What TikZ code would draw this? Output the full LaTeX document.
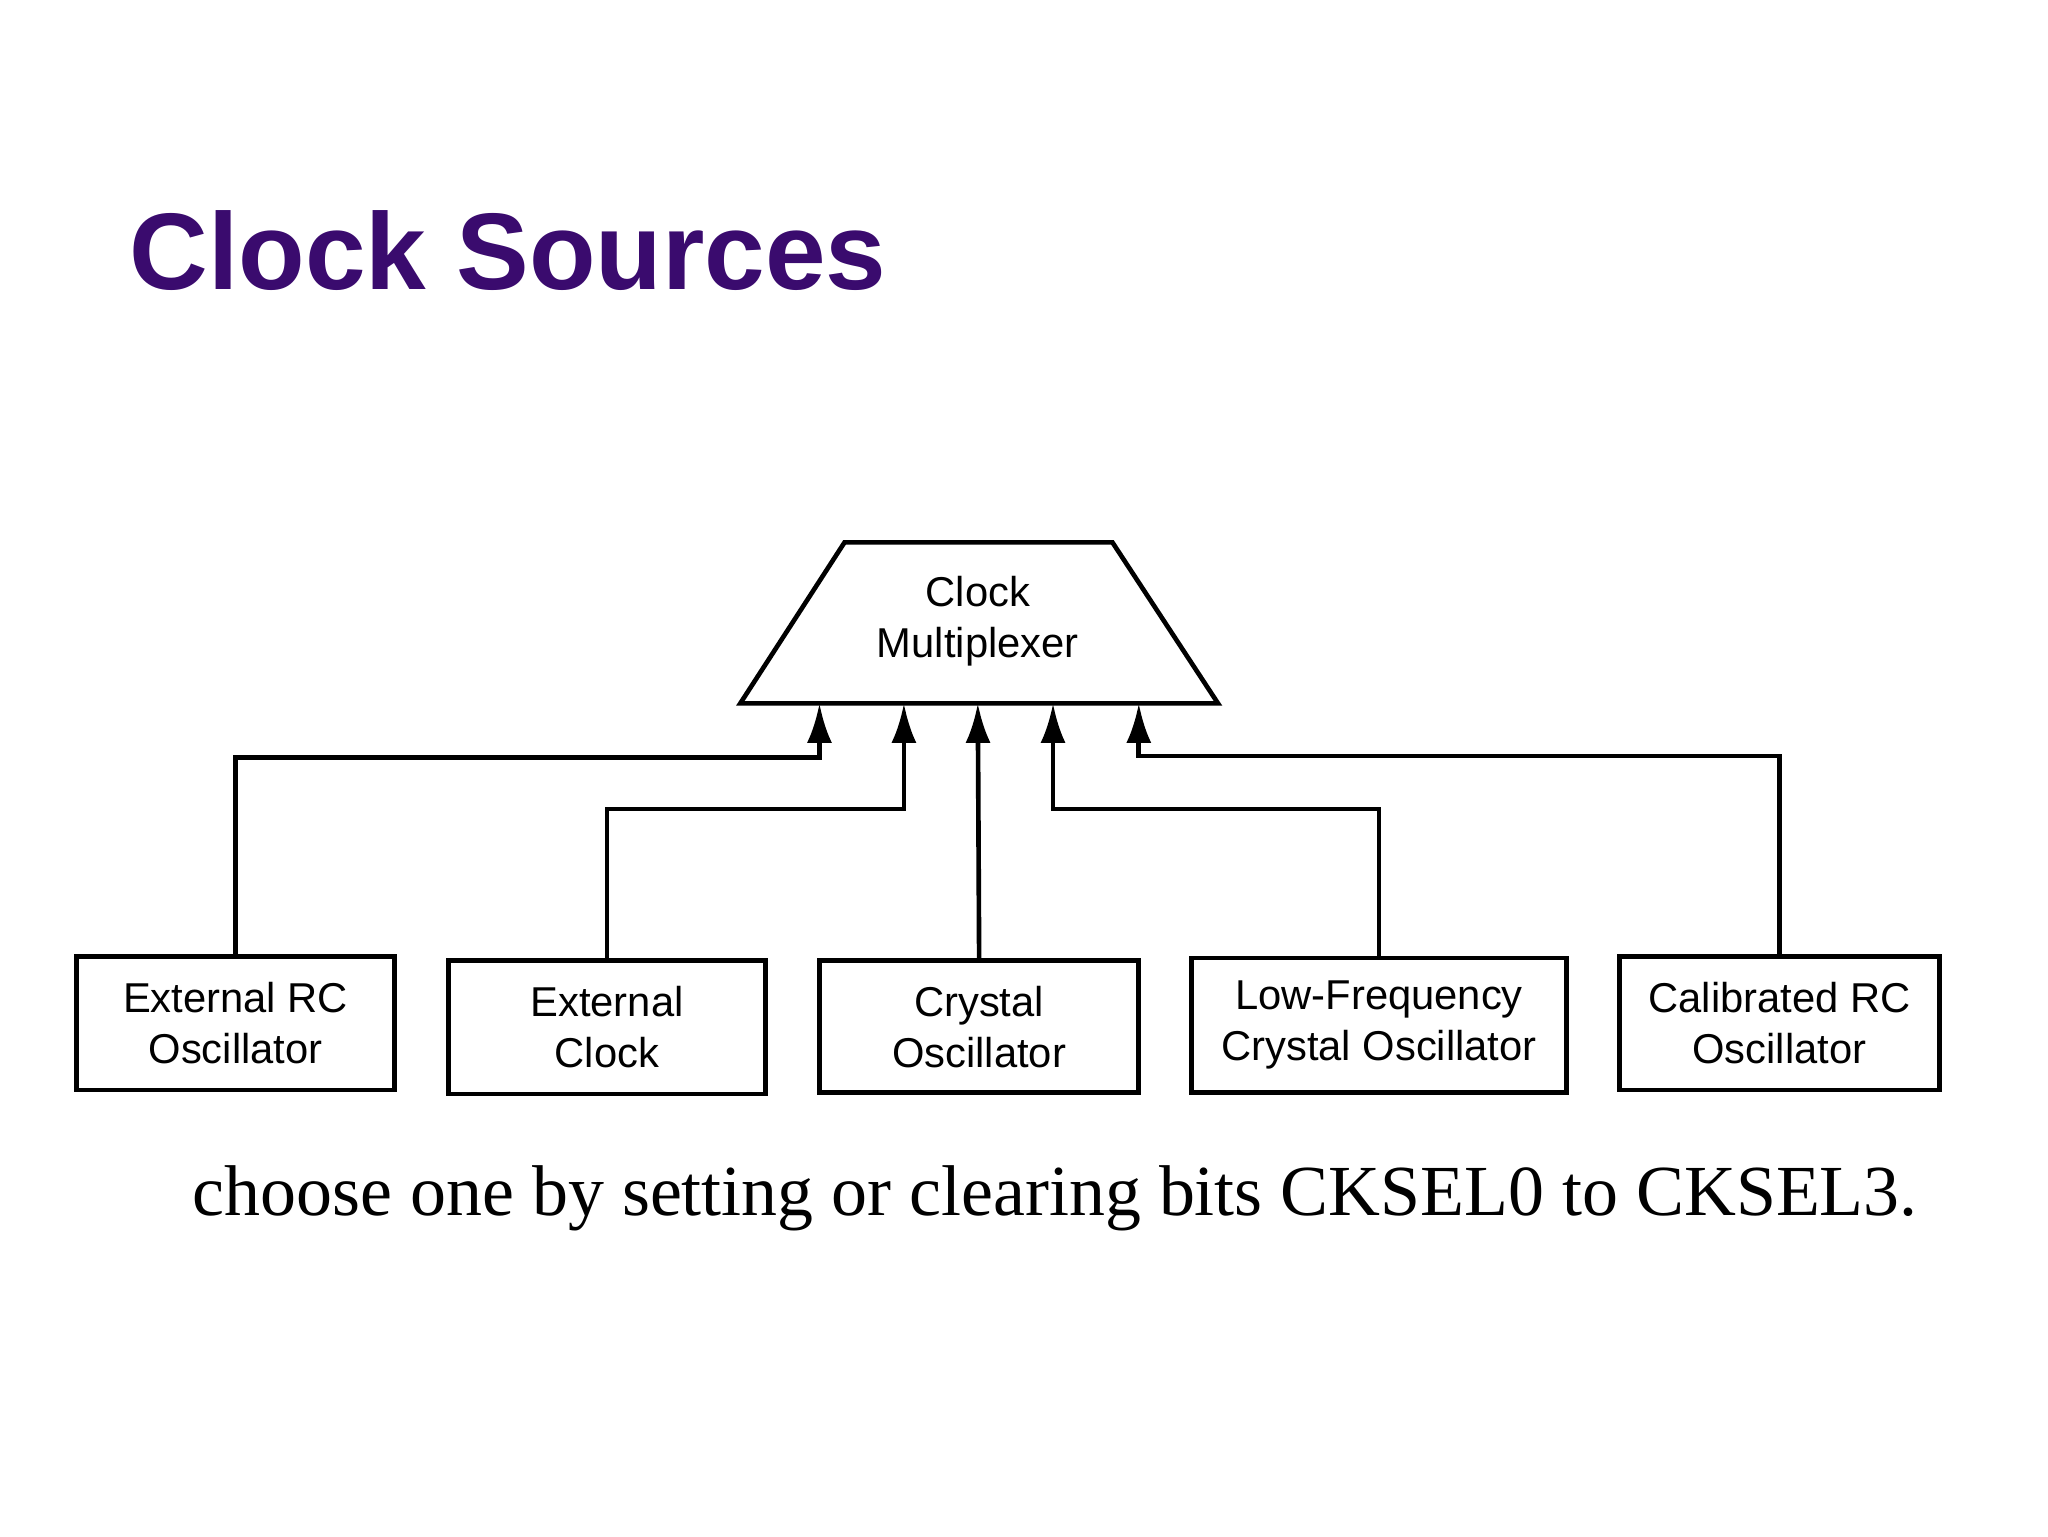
\documentclass[tikz,border=0pt]{standalone}
\usepackage{fontspec}
\setmainfont{Liberation Sans}
\newfontfamily\serifx{Liberation Serif}
\usetikzlibrary{arrows.meta}
\definecolor{titlepurple}{HTML}{3A0B6E}
\begin{document}
\begin{tikzpicture}[x=0.02cm,y=-0.02cm,
  lbl/.style={font=\fontsize{18}{22}\selectfont,align=center},
  conn/.style={line width=2pt,-{Latex[length=0.6cm,width=0.38cm]}}]
\useasboundingbox (0,0) rectangle (1552,1164);
\node[anchor=west,text=titlepurple,font=\fontsize{47}{56}\selectfont\bfseries] (title) at (92,190) {Clock Sources};
% multiplexer
\draw[line width=2pt] (640,411) -- (843,411) -- (923,533) -- (561,533) -- cycle;
\node[lbl] (mux) at (741,471) {Clock\\Multiplexer};
\coordinate (m1) at (621,533);
\coordinate (m2) at (685,533);
\coordinate (m3) at (741,533);
\coordinate (m4) at (798,533);
\coordinate (m5) at (863,533);
% boxes
\node[draw,line width=2pt,minimum width=4.82cm,minimum height=2.02cm,lbl] (b1) at (178.5,775.5) {External RC\\Oscillator};
\node[draw,line width=2pt,minimum width=4.8cm,minimum height=2.02cm,lbl] (b2) at (460,778.5) {External\\Clock};
\node[draw,line width=2pt,minimum width=4.84cm,minimum height=2.0cm,lbl] (b3) at (742,778) {Crystal\\Oscillator};
\node[draw,line width=2pt,minimum width=5.68cm,minimum height=2.04cm,lbl] (b4) at (1045,777) {Low-Frequency\\Crystal Oscillator};
\node[draw,line width=2pt,minimum width=4.86cm,minimum height=2.02cm,lbl] (b5) at (1348.5,775.5) {Calibrated RC\\Oscillator};
% connectors
\draw[conn] (b1.north) |- (621,574) -- (m1);
\draw[conn] (b2.north) |- (685,613) -- (m2);
\draw[conn] (b3.north) -- (m3);
\draw[conn] (b4.north) |- (798,613) -- (m4);
\draw[conn] (b5.north) |- (863,573) -- (m5);
\node[anchor=west,font=\serifx\fontsize{31}{38}\selectfont] (note) at (140,908) {choose one by setting or clearing bits CKSEL0 to CKSEL3.};
\end{tikzpicture}
\end{document}
